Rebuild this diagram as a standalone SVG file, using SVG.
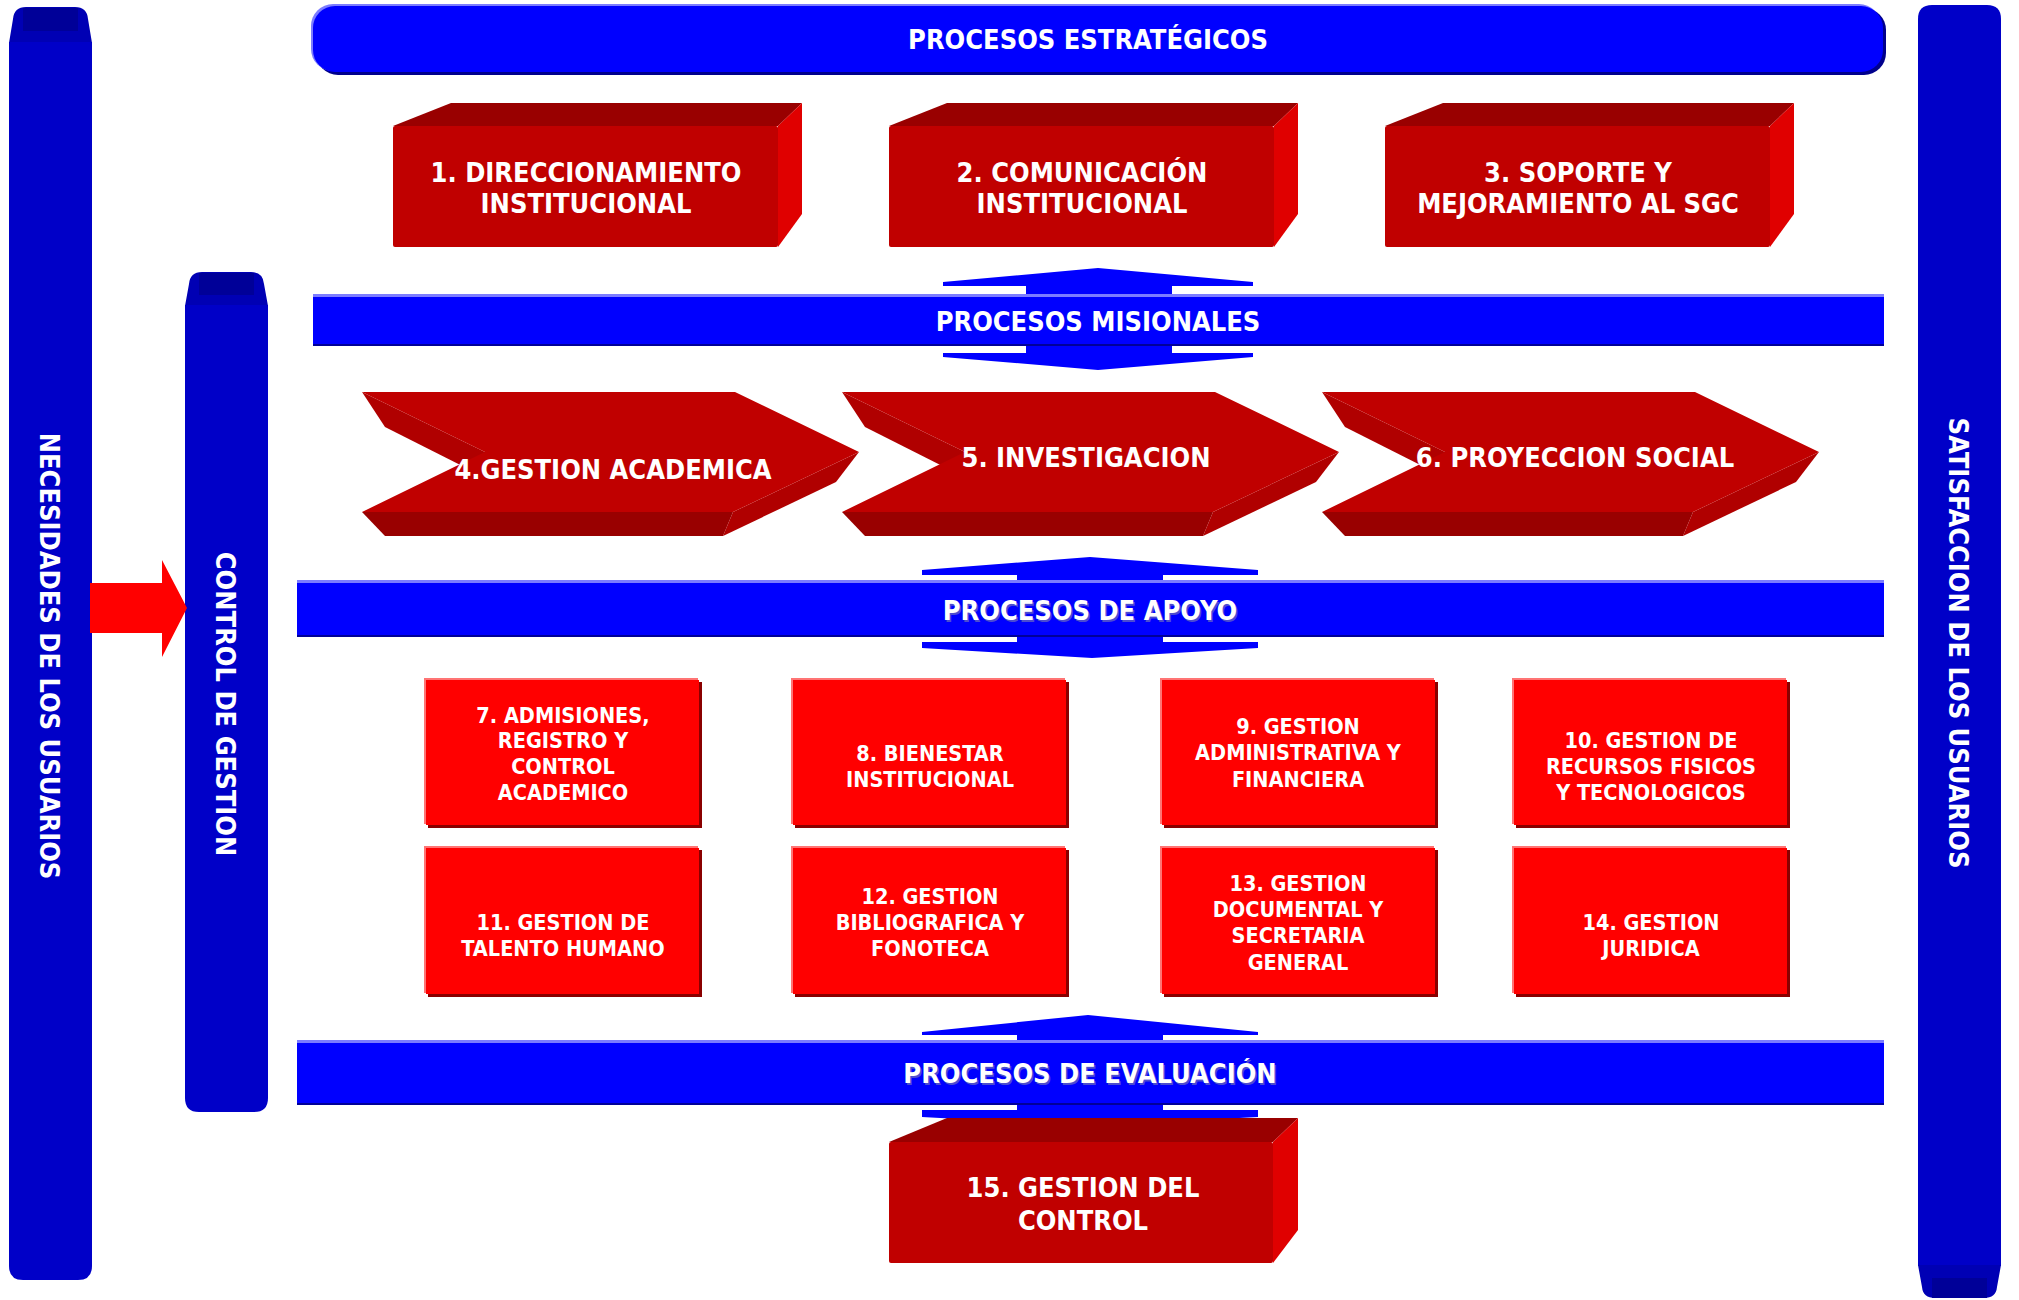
<svg xmlns="http://www.w3.org/2000/svg" width="2019" height="1300" viewBox="0 0 2019 1300">
<style>
.t{font-family:'DejaVu Sans Condensed','DejaVu Sans',sans-serif;font-stretch:condensed;font-weight:bold;fill:#fff;text-anchor:middle}
.big{font-size:27px}
.sm{font-size:21.5px}
.sh{fill:#8a8aa8;opacity:.55}
.pil{fill:#0000C8}
.cap{fill:#0000B4}
.capd{fill:#000098}
.bar{fill:#0000FF}
.barl{fill:#7C7CFF}
.bard{fill:#000098}
.front{fill:#C00000}
.topf{fill:#990000}
.side{fill:#E00000}
.cside{fill:#B00000}
.sup{fill:#FF0000}
.supsh{fill:#8A0000}
.supl{fill:#FF7474}
</style>

<!-- Pillars -->
<g id="necesidades">
  <path class="cap" d="M9,43 L13,19 Q14,7 26,7 H75 Q87,7 88,19 L92,43 Z"/>
  <rect class="capd" x="23" y="8" width="55" height="23"/>
  <path class="pil" d="M9,42 H92 V1266 Q92,1280 78,1280 H23 Q9,1280 9,1266 Z"/>
  <text class="t big" transform="translate(50,656) rotate(90)" x="0" y="10">NECESIDADES DE LOS USUARIOS</text>
</g>
<g id="control">
  <path class="cap" d="M185,306 L189,284 Q190,272 202,272 H251 Q263,272 264,284 L268,306 Z"/>
  <rect class="capd" x="199" y="273" width="55" height="22"/>
  <path class="pil" d="M185,305 H268 V1098 Q268,1112 254,1112 H199 Q185,1112 185,1098 Z"/>
  <text class="t big" transform="translate(226,704) rotate(90)" x="0" y="10">CONTROL DE GESTION</text>
</g>
<g id="satisfaccion">
  <path class="pil" d="M1918,19 Q1918,5 1932,5 H1987 Q2001,5 2001,19 V1266 H1918 Z"/>
  <path class="cap" d="M1918,1265 H2001 L1997,1287 Q1996,1298 1984,1298 H1935 Q1923,1298 1922,1287 Z"/>
  <rect class="capd" x="1932" y="1278" width="55" height="20"/>
  <text class="t big" transform="translate(1959,643) rotate(90)" x="0" y="10">SATISFACCION DE LOS USUARIOS</text>
</g>

<!-- Connectors -->
<g id="connectors">
  <path fill="#FF0000" d="M90,583 H162 V560 L187,608 L162,657 V633 H90 Z"/>
  <path class="bar" d="M943,282 L1098,268 L1253,282 V286 H1172 V353 H1253 V357 L1098,370 L943,357 V353 H1026 V286 H943 Z"/>
  <path class="bar" d="M922,570 L1090,557 L1258,570 V575 H1163 V642 H1258 V648 L1092,658 L922,648 V642 H1017 V575 H922 Z"/>
  <path class="bar" d="M922,1032 L1088,1015 L1258,1032 V1035 H1163 V1110 H1258 V1117 L1090,1126 L922,1117 V1110 H1017 V1035 H922 Z"/>
</g>

<!-- Bars -->
<g id="estrategicos">
  <rect x="316" y="8" width="1570" height="67" rx="22" fill="#00008C"/>
  <rect x="311" y="4" width="1570" height="67" rx="22" class="barl"/>
  <rect x="313" y="6" width="1570" height="66" rx="22" class="bar"/>
  <text class="t big" x="1088" y="49">PROCESOS ESTRATÉGICOS</text>
</g>
<g id="misionales">
  <rect x="313" y="294" width="1571" height="52" class="bar"/>
  <rect x="313" y="294" width="1571" height="3" class="barl"/>
  <rect x="313" y="344" width="1571" height="2" class="bard"/>
  <text class="t big" x="1098" y="331">PROCESOS MISIONALES</text>
</g>
<g id="apoyo">
  <rect x="297" y="580" width="1587" height="57" class="bar"/>
  <rect x="297" y="580" width="1587" height="3" class="barl"/>
  <rect x="297" y="635" width="1587" height="2" class="bard"/>
  <text class="t big sh" x="1091.5" y="621.5">PROCESOS DE APOYO</text>
  <text class="t big" x="1090" y="620">PROCESOS DE APOYO</text>
</g>
<g id="evaluacion">
  <rect x="297" y="1040" width="1587" height="65" class="bar"/>
  <rect x="297" y="1040" width="1587" height="3" class="barl"/>
  <rect x="297" y="1103" width="1587" height="2" class="bard"/>
  <text class="t big sh" x="1091.5" y="1084.5">PROCESOS DE EVALUACIÓN</text>
  <text class="t big" x="1090" y="1083">PROCESOS DE EVALUACIÓN</text>
</g>

<!-- Strategic boxes -->
<g id="p1">
  <polygon class="topf" points="393,126 451,103 802,103 778,126"/>
  <polygon class="side" points="778,126 802,103 802,214 778,247"/>
  <rect class="front" x="393" y="126" width="385" height="121" rx="2"/>
  <text class="t big" x="586" y="182">1. DIRECCIONAMIENTO</text>
  <text class="t big" x="586" y="213">INSTITUCIONAL</text>
</g>
<g id="p2">
  <polygon class="topf" points="889,126 947,103 1298,103 1274,126"/>
  <polygon class="side" points="1274,126 1298,103 1298,214 1274,247"/>
  <rect class="front" x="889" y="126" width="385" height="121" rx="2"/>
  <text class="t big" x="1082" y="182">2. COMUNICACIÓN</text>
  <text class="t big" x="1082" y="213">INSTITUCIONAL</text>
</g>
<g id="p3">
  <polygon class="topf" points="1385,126 1443,103 1794,103 1770,126"/>
  <polygon class="side" points="1770,126 1794,103 1794,214 1770,247"/>
  <rect class="front" x="1385" y="126" width="385" height="121" rx="2"/>
  <text class="t big" x="1578" y="182">3. SOPORTE Y</text>
  <text class="t big" x="1578" y="213">MEJORAMIENTO AL SGC</text>
</g>

<!-- Mission chevrons -->
<g id="p4">
  <polygon class="cside" points="362,392 385,427 500,485 485,452"/>
  <polygon class="topf" points="362,512 733,512 723,536 385,536"/>
  <polygon class="cside" points="859,452 733,512 723,536 836,482"/>
  <polygon class="front" points="362,392 735,392 859,452 733,512 362,512 485,452"/>
  <text class="t big" x="613" y="479">4.GESTION ACADEMICA</text>
</g>
<g id="p5">
  <polygon class="cside" points="842,392 865,427 980,485 965,452"/>
  <polygon class="topf" points="842,512 1213,512 1203,536 865,536"/>
  <polygon class="cside" points="1339,452 1213,512 1203,536 1316,482"/>
  <polygon class="front" points="842,392 1215,392 1339,452 1213,512 842,512 965,452"/>
  <text class="t big" x="1086" y="467">5. INVESTIGACION</text>
</g>
<g id="p6">
  <polygon class="cside" points="1322,392 1345,427 1460,485 1445,452"/>
  <polygon class="topf" points="1322,512 1693,512 1683,536 1345,536"/>
  <polygon class="cside" points="1819,452 1693,512 1683,536 1796,482"/>
  <polygon class="front" points="1322,392 1695,392 1819,452 1693,512 1322,512 1445,452"/>
  <text class="t big" x="1575" y="467">6. PROYECCION SOCIAL</text>
</g>

<!-- Support boxes -->
<g id="p7">
  <rect class="supsh" x="428" y="682" width="274" height="146"/>
  <rect class="supl" x="424" y="678" width="274" height="146"/>
  <rect class="sup" x="426" y="680" width="273" height="145"/>
  <text class="t sm" x="563" y="723">7. ADMISIONES,</text>
  <text class="t sm" x="563" y="748">REGISTRO Y</text>
  <text class="t sm" x="563" y="774">CONTROL</text>
  <text class="t sm" x="563" y="800">ACADEMICO</text>
</g>
<g id="p8">
  <rect class="supsh" x="795" y="682" width="274" height="146"/>
  <rect class="supl" x="791" y="678" width="274" height="146"/>
  <rect class="sup" x="793" y="680" width="273" height="145"/>
  <text class="t sm" x="930" y="761">8. BIENESTAR</text>
  <text class="t sm" x="930" y="787">INSTITUCIONAL</text>
</g>
<g id="p9">
  <rect class="supsh" x="1164" y="682" width="274" height="146"/>
  <rect class="supl" x="1160" y="678" width="274" height="146"/>
  <rect class="sup" x="1162" y="680" width="273" height="145"/>
  <text class="t sm" x="1298" y="734">9. GESTION</text>
  <text class="t sm" x="1298" y="760">ADMINISTRATIVA Y</text>
  <text class="t sm" x="1298" y="787">FINANCIERA</text>
</g>
<g id="p10">
  <rect class="supsh" x="1516" y="682" width="274" height="146"/>
  <rect class="supl" x="1512" y="678" width="274" height="146"/>
  <rect class="sup" x="1514" y="680" width="273" height="145"/>
  <text class="t sm" x="1651" y="748">10. GESTION DE</text>
  <text class="t sm" x="1651" y="774">RECURSOS FISICOS</text>
  <text class="t sm" x="1651" y="800">Y TECNOLOGICOS</text>
</g>
<g id="p11">
  <rect class="supsh" x="428" y="850" width="274" height="147"/>
  <rect class="supl" x="424" y="846" width="274" height="147"/>
  <rect class="sup" x="426" y="848" width="273" height="146"/>
  <text class="t sm" x="563" y="930">11. GESTION DE</text>
  <text class="t sm" x="563" y="956">TALENTO HUMANO</text>
</g>
<g id="p12">
  <rect class="supsh" x="795" y="850" width="274" height="147"/>
  <rect class="supl" x="791" y="846" width="274" height="147"/>
  <rect class="sup" x="793" y="848" width="273" height="146"/>
  <text class="t sm" x="930" y="904">12. GESTION</text>
  <text class="t sm" x="930" y="930">BIBLIOGRAFICA Y</text>
  <text class="t sm" x="930" y="956">FONOTECA</text>
</g>
<g id="p13">
  <rect class="supsh" x="1164" y="850" width="274" height="147"/>
  <rect class="supl" x="1160" y="846" width="274" height="147"/>
  <rect class="sup" x="1162" y="848" width="273" height="146"/>
  <text class="t sm" x="1298" y="891">13. GESTION</text>
  <text class="t sm" x="1298" y="917">DOCUMENTAL Y</text>
  <text class="t sm" x="1298" y="943">SECRETARIA</text>
  <text class="t sm" x="1298" y="970">GENERAL</text>
</g>
<g id="p14">
  <rect class="supsh" x="1516" y="850" width="274" height="147"/>
  <rect class="supl" x="1512" y="846" width="274" height="147"/>
  <rect class="sup" x="1514" y="848" width="273" height="146"/>
  <text class="t sm" x="1651" y="930">14. GESTION</text>
  <text class="t sm" x="1651" y="956">JURIDICA</text>
</g>

<!-- Evaluation box -->
<g id="p15">
  <polygon class="topf" points="889,1142 947,1118 1298,1118 1273,1142"/>
  <polygon class="side" points="1273,1142 1298,1118 1298,1230 1273,1263"/>
  <rect class="front" x="889" y="1142" width="384" height="121" rx="2"/>
  <text class="t big" x="1083" y="1197">15. GESTION DEL</text>
  <text class="t big" x="1083" y="1230">CONTROL</text>
</g>
</svg>
